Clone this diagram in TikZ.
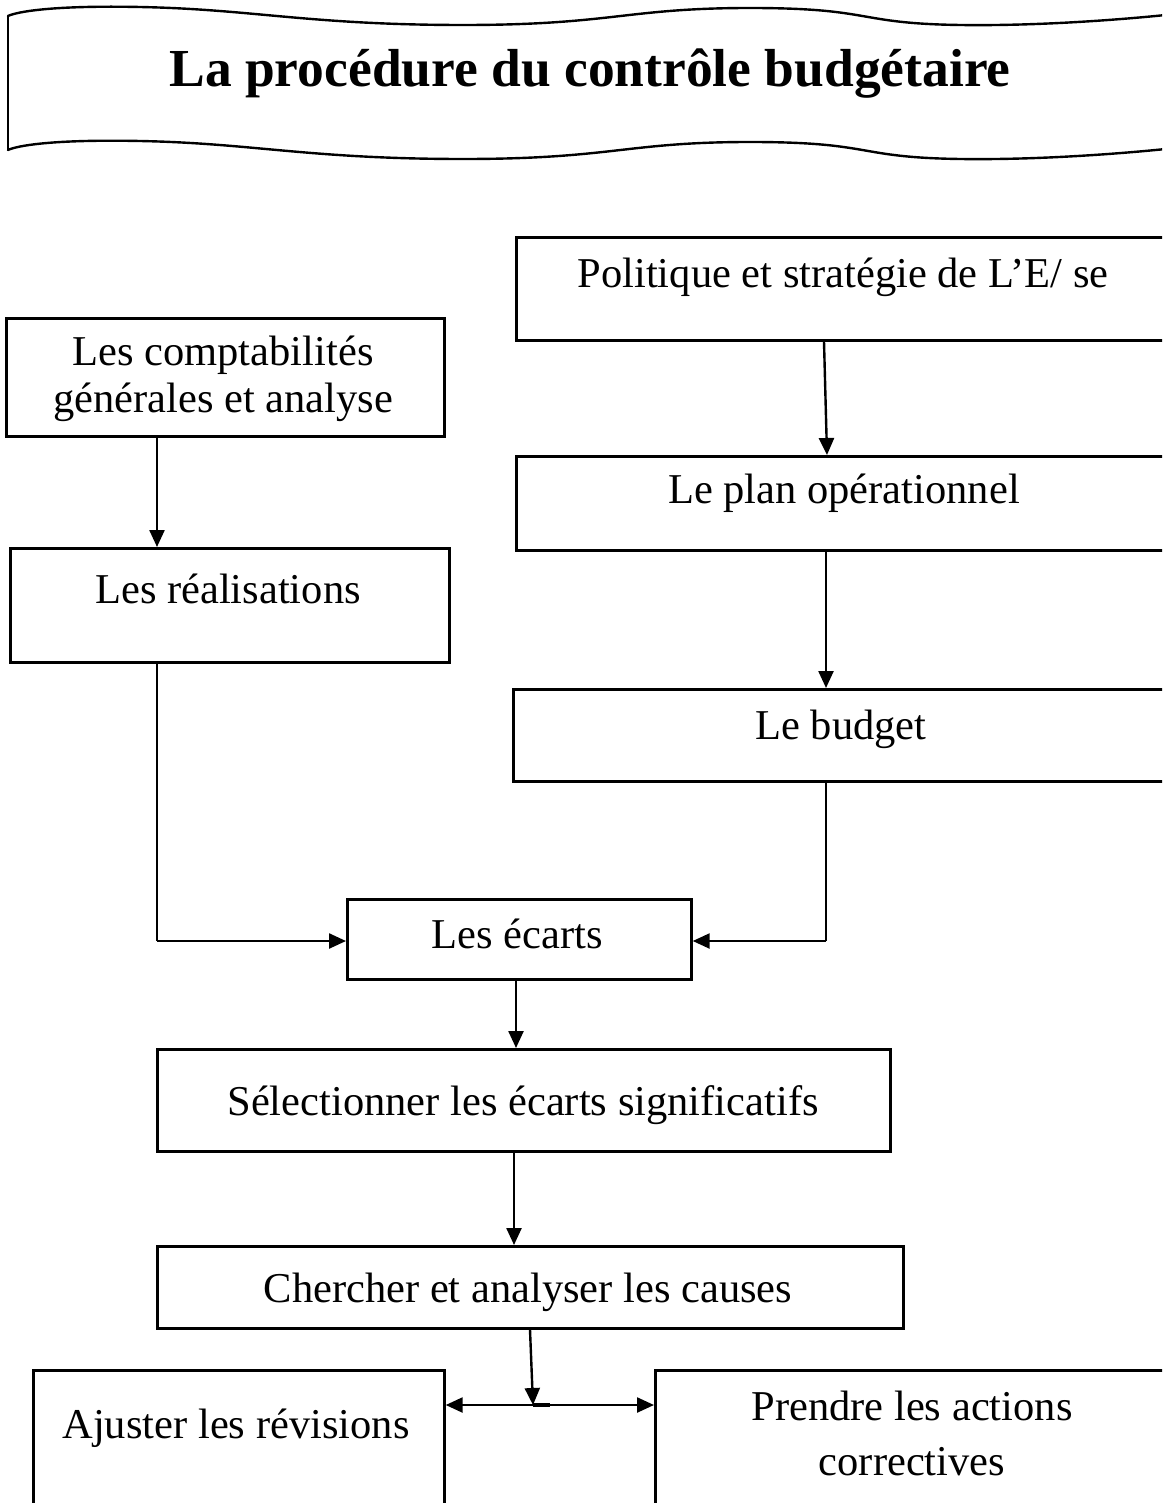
\documentclass[tikz,border=0pt]{standalone}
\usepackage{fontspec}
\setmainfont{Liberation Serif}
\usetikzlibrary{arrows.meta}
\begin{document}
\begin{tikzpicture}[x=1pt,y=-1pt,
  box/.style={draw, line width=2.7pt, rectangle, inner sep=0pt, anchor=north west},
  lbl/.style={anchor=base, inner sep=0pt, font=\fontsize{42.5}{50}\selectfont},
  conn/.style={line width=2.4pt, -{Triangle[length=17pt,width=15pt]}},
  wire/.style={line width=1.6pt},
  wave/.style={line width=2.4pt, line cap=round}
]
\clip (0,0) rectangle (1162,1503);
\fill[white] (0,0) rectangle (1162,1503);

% title banner
\draw[wave] plot[smooth, tension=0.9] coordinates {(8,16) (140,7) (460,25) (750,8) (960,25) (1175,14)};
\draw[wave] plot[smooth, tension=0.9] coordinates {(8,150) (140,141) (460,159) (750,142) (960,159) (1175,148)};
\draw[wave] (8,16) -- (8,150);
\node[anchor=base, inner sep=0pt, font=\fontsize{53.5}{60}\selectfont\bfseries] (tit) at (590,87) {La procédure du contrôle budgétaire};

% boxes
\node[box, minimum width=665pt, minimum height=103pt] (pol) at (515,236) {};
\node[box, minimum width=438pt, minimum height=118pt] (cpt) at (5,317) {};
\node[box, minimum width=665pt, minimum height=94pt] (plan) at (515,455) {};
\node[box, minimum width=439pt, minimum height=114pt] (rea) at (9,547) {};
\node[box, minimum width=668pt, minimum height=92pt] (bud) at (512,688) {};
\node[box, minimum width=344pt, minimum height=80pt] (eca) at (346,898) {};
\node[box, minimum width=733pt, minimum height=102pt] (sel) at (156,1048) {};
\node[box, minimum width=746pt, minimum height=82pt] (cher) at (156,1245) {};
\node[box, minimum width=411pt, minimum height=160pt] (aju) at (32,1369) {};
\node[box, minimum width=526pt, minimum height=160pt] (pre) at (654,1369) {};

% texts
\node[lbl] (tpol) at (843,288) {Politique et stratégie de L’E/ se};
\node[lbl] (tcpt1) at (223,365) {Les comptabilités};
\node[lbl] (tcpt2) at (223,412) {générales et analyse};
\node[lbl] (tplan) at (844,503) {Le plan opérationnel};
\node[lbl] (trea) at (228,603) {Les réalisations};
\node[lbl] (tbud) at (841,739) {Le budget};
\node[lbl] (teca) at (517,948) {Les écarts};
\node[lbl] (tsel) at (523,1115) {Sélectionner les écarts significatifs};
\node[lbl] (tcher) at (528,1302) {Chercher et analyser les causes};
\node[lbl] (taju) at (236,1438) {Ajuster les révisions};
\node[lbl] (tpre1) at (912,1420) {Prendre les actions};
\node[lbl] (tpre2) at (912,1475) {correctives};

% helper coordinates
\coordinate (xa) at (824,0);
\coordinate (xb) at (827,0);
\coordinate (xr) at (826,0);
\coordinate (xl) at (157,0);
\coordinate (xe) at (516,0);
\coordinate (xs) at (514,0);
\coordinate (xc) at (530,0);
\coordinate (j) at (533,1405);
\coordinate (cl) at (157,941);
\coordinate (cr) at (826,941);

% connectors
\draw[conn] (pol.south -| xa) -- (plan.north -| xb);
\draw[conn] (plan.south -| xr) -- (bud.north -| xr);
\draw[conn] (cpt.south -| xl) -- (rea.north -| xl);
\draw[wire] (rea.south -| xl) -- (cl);
\draw[conn] (cl) -- (eca.west |- cl);
\draw[wire] (bud.south -| xr) -- (cr);
\draw[conn] (cr) -- (eca.east |- cr);
\draw[conn] (eca.south -| xe) -- (sel.north -| xe);
\draw[conn] (sel.south -| xs) -- (cher.north -| xs);
\draw[conn] (cher.south -| xc) -- (j);
\draw[line width=2.4pt, {Triangle[length=17pt,width=15pt]}-{Triangle[length=17pt,width=15pt]}] (aju.east |- j) -- (pre.west |- j);
\draw[line width=3.2pt] (j) -- ++(17,0);
\end{tikzpicture}
\end{document}
